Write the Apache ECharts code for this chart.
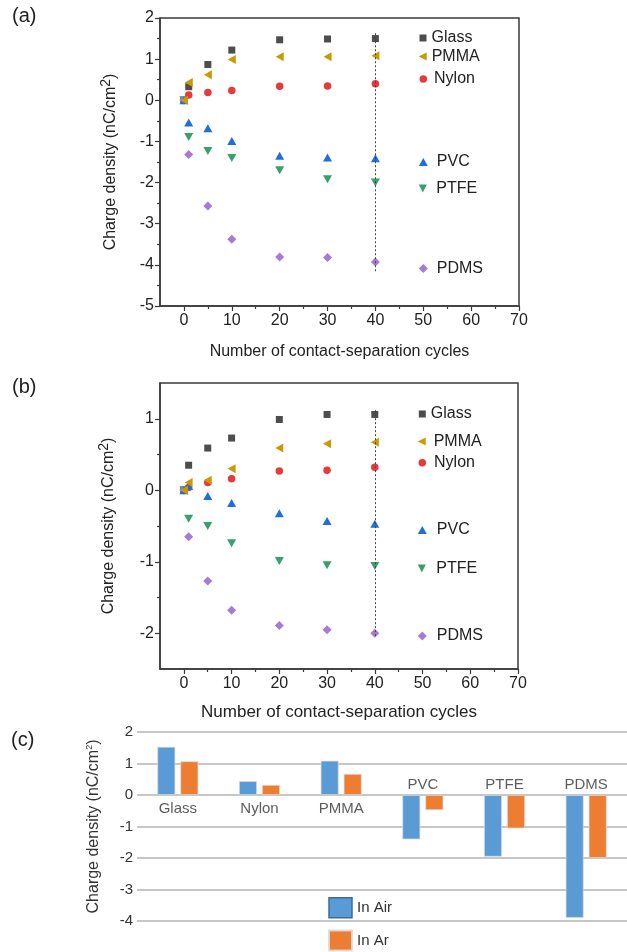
<!DOCTYPE html>
<html>
<head>
<meta charset="utf-8">
<script src="https://cdn.jsdelivr.net/npm/echarts@6/dist/echarts.min.js"></script>
<style>
html,body{margin:0;padding:0;background:#fff;}
#main{width:627px;height:952px;}
</style>
</head>
<body>
<div id="main"></div>
<script>
// ---------- data ----------
const cycles = [0, 1, 5, 10, 20, 30, 40];

// (a) in air
const glassA = [0, 0.33, 0.87, 1.22, 1.47, 1.49, 1.50];
const pmmaA  = [0, 0.43, 0.62, 0.99, 1.06, 1.06, 1.08];
const nylonA = [0, 0.13, 0.19, 0.24, 0.34, 0.35, 0.40];
const pvcA   = [0, -0.54, -0.68, -0.99, -1.35, -1.39, -1.41];
const ptfeA  = [0, -0.89, -1.23, -1.40, -1.70, -1.92, -2.00];
const pdmsA  = [0, -1.32, -2.57, -3.38, -3.81, -3.82, -3.93];

// (b) in Ar
const glassB = [0, 0.35, 0.59, 0.73, 0.99, 1.06, 1.06];
const pmmaB  = [0, 0.11, 0.14, 0.30, 0.59, 0.65, 0.67];
const nylonB = [0, 0.04, 0.11, 0.16, 0.27, 0.28, 0.32];
const pvcB   = [0, 0.06, -0.08, -0.18, -0.32, -0.43, -0.47];
const ptfeB  = [0, -0.40, -0.50, -0.74, -0.99, -1.05, -1.06];
const pdmsB  = [0, -0.65, -1.27, -1.68, -1.89, -1.95, -2.00];

// (c) bars
const materials = ['Glass', 'Nylon', 'PMMA', 'PVC', 'PTFE', 'PDMS'];
const inAir = [1.53, 0.44, 1.09, -1.41, -1.96, -3.90];
const inAr  = [1.07, 0.32, 0.67, -0.48, -1.06, -2.00];

// tick labels
const xMajorTicks = [0, 10, 20, 30, 40, 50, 60, 70];
const xMinorTicks = [5, 15, 25, 35, 45, 55, 65];
const yMajorTicksB = [-2, -1, 0, 1];
const yMinorTicksB = [-1.5, -0.5, 0.5];

// ---------- styles ----------
const FONT = 'Liberation Sans, Arial, Helvetica, sans-serif';
const AX = '#3a3a3a';
const TXT = '#222';
const colors = {
  Glass: '#4d4d4d', PMMA: '#cc9900', Nylon: '#e8393d',
  PVC: '#1f6fd6', PTFE: '#38a06a', PDMS: '#a77ad8'
};
const LEFT_TRI = 'path://M0,5L10,0L10,10Z';
const DOWN_TRI = 'path://M0,0L10,0L5,10Z';
const symbols = {
  Glass: {symbol: 'rect', size: [7, 7]},
  PMMA: {symbol: LEFT_TRI, size: [8, 9]},
  Nylon: {symbol: 'circle', size: 7.5},
  PVC: {symbol: 'triangle', size: [9, 8]},
  PTFE: {symbol: DOWN_TRI, size: [9, 8]},
  PDMS: {symbol: 'diamond', size: [9, 9]}
};

const zip = (xs, ys) => xs.map((x, i) => [x, ys[i]]);

const yName = {
  t: {fontSize: 16, color: TXT, fontFamily: FONT},
  s: {fontSize: 14, color: TXT, fontFamily: FONT, padding: [0, 0, 9, 0]}
};
const yNameC = {
  t: {fontSize: 16, color: '#333', fontFamily: FONT},
  s: {fontSize: 9, color: '#333', fontFamily: FONT, padding: [0, 0, 9, 0]}
};
const yNameText = '{t|Charge density (nC/cm}{s|2}{t|)}';

function majorX(grid, fs) {
  return {
    type: 'value', gridIndex: grid, min: -5, max: 70, position: 'bottom',
    name: 'Number of contact-separation cycles', nameLocation: 'middle',
    nameGap: grid === 0 ? 38 : 35,
    nameTextStyle: {fontSize: fs, color: TXT, fontFamily: FONT},
    axisLine: {show: true, onZero: false, lineStyle: {color: AX, width: 1.5}},
    axisTick: {show: true, length: 5, customValues: xMajorTicks, lineStyle: {color: AX, width: 1.2}},
    axisLabel: {customValues: xMajorTicks, fontSize: 16, color: TXT, fontFamily: FONT, margin: 7},
    splitLine: {show: false}
  };
}
function minorX(grid) {
  return {
    type: 'value', gridIndex: grid, min: -5, max: 70, position: 'bottom', offset: 0,
    axisLine: {show: false, onZero: false},
    axisTick: {show: true, length: 3, customValues: xMinorTicks, lineStyle: {color: AX, width: 1.2}},
    axisLabel: {show: false},
    splitLine: {show: false}
  };
}

const series = [];
function addScatter(name, values, xi, yi, markLine) {
  const s = {
    type: 'scatter', name: name, xAxisIndex: xi, yAxisIndex: yi,
    data: zip(cycles, values),
    symbol: symbols[name].symbol, symbolSize: symbols[name].size,
    itemStyle: {color: colors[name], opacity: 1},
    emphasis: {disabled: true}, z: 3
  };
  if (markLine) s.markLine = markLine;
  series.push(s);
}
function vline(top, bottom) {
  return {
    silent: true, symbol: 'none', label: {show: false},
    lineStyle: {color: '#444', width: 1, type: [2, 2]},
    data: [[{coord: [cycles[6], top]}, {coord: [cycles[6], bottom]}]]
  };
}

// (a)
addScatter('Glass', glassA, 0, 0, vline(glassA[6] + 0.13, pdmsA[6] - 0.23));
addScatter('Nylon', nylonA, 0, 0);
addScatter('PTFE', ptfeA, 0, 0);
addScatter('PDMS', pdmsA, 0, 0);
addScatter('PVC', pvcA, 0, 0);
addScatter('PMMA', pmmaA, 0, 0);
// (b)
addScatter('Glass', glassB, 2, 1, vline(glassB[6] + 0.06, pdmsB[6] - 0.05));
addScatter('Nylon', nylonB, 2, 1);
addScatter('PTFE', ptfeB, 2, 1);
addScatter('PDMS', pdmsB, 2, 1);
addScatter('PVC', pvcB, 2, 1);
addScatter('PMMA', pmmaB, 2, 1);

// (c)
series.push({
  type: 'bar', name: 'In Air', xAxisIndex: 4, yAxisIndex: 3, data: inAir,
  barWidth: 18, barGap: '28%',
  itemStyle: {color: '#5b9bd5', borderColor: 'rgba(220,220,220,0.9)', borderWidth: 0.8}, z: 3
});
series.push({
  type: 'bar', name: 'In Ar', xAxisIndex: 4, yAxisIndex: 3, data: inAr,
  barWidth: 18,
  itemStyle: {color: '#ed7d31', borderColor: 'rgba(220,220,220,0.9)', borderWidth: 0.8}, z: 3
});
// category labels above/below zero line
series.push({
  type: 'scatter', name: 'cat', xAxisIndex: 4, yAxisIndex: 3,
  symbolSize: 0, silent: true,
  data: materials.map((m, i) => ({
    value: [i, 0],
    label: {
      show: true, formatter: m,
      position: inAir[i] >= 0 ? 'bottom' : 'top',
      distance: inAir[i] >= 0 ? 6 : 3,
      fontSize: 15, color: '#333', fontFamily: FONT
    }
  })),
  z: 4
});

// legends placed inside plots
function leg(name, cx, cy, pad) {
  const sz = symbols[name].size;
  const w = Array.isArray(sz) ? sz[0] : sz;
  const h = Array.isArray(sz) ? sz[1] : sz;
  return {
    data: [{name: name, icon: symbols[name].symbol}],
    left: cx - w / 2, top: cy - 8, padding: 0,
    itemWidth: w, itemHeight: h, selectedMode: false,
    itemStyle: {color: colors[name]},
    textStyle: {fontSize: 16, color: TXT, fontFamily: FONT, lineHeight: 16, padding: [0, 0, 0, pad]}
  };
}
const legends = [
  leg('Glass', 423, 38, 0), leg('PMMA', 422.7, 56.5, 0), leg('Nylon', 423.3, 79, 2),
  leg('PVC', 423.3, 162, 4), leg('PTFE', 423.3, 188.5, 4), leg('PDMS', 423.3, 268.5, 4),
  leg('Glass', 422.3, 414, 0), leg('PMMA', 421.7, 441.5, 3), leg('Nylon', 422.3, 462.7, 3),
  leg('PVC', 422.3, 530, 5), leg('PTFE', 422.3, 568.5, 5), leg('PDMS', 422.3, 636, 5),
  {
    data: [
      {name: 'In Air', itemStyle: {borderColor: '#3b6c9b', borderWidth: 1.5}},
      {name: 'In Ar'}
    ],
    orient: 'vertical', left: 328, top: 897, padding: 0,
    itemWidth: 23, itemHeight: 20, itemGap: 11, icon: 'rect', selectedMode: false,
    textStyle: {fontSize: 15, color: '#333', fontFamily: FONT}
  }
];

const option = {
  animation: false,
  backgroundColor: '#fff',
  textStyle: {fontFamily: FONT},
  grid: [
    {left: 160, top: 18, width: 359, height: 288, show: true, borderColor: AX, borderWidth: 1.5, containLabel: false},
    {left: 160, top: 383, width: 358, height: 286, show: true, borderColor: AX, borderWidth: 1.5, containLabel: false},
    {left: 137, top: 732, width: 495, height: 189, containLabel: false}
  ],
  xAxis: [
    majorX(0, 16), minorX(0), majorX(1, 17), minorX(1),
    {
      type: 'category', gridIndex: 2, data: materials,
      axisLine: {show: false}, axisTick: {show: false}, axisLabel: {show: false},
      splitLine: {show: false}
    }
  ],
  yAxis: [
    {
      type: 'value', gridIndex: 0, min: -5, max: 2, interval: 1,
      name: yNameText, nameLocation: 'middle', nameGap: 38,
      nameTextStyle: {rich: yName},
      axisLine: {show: true, onZero: false, lineStyle: {color: AX, width: 1.5}},
      axisTick: {show: true, length: 5, lineStyle: {color: AX, width: 1.2}},
      minorTick: {show: true, splitNumber: 2, length: 3, lineStyle: {color: AX, width: 1.2}},
      axisLabel: {fontSize: 16, color: TXT, fontFamily: FONT, margin: 6},
      splitLine: {show: false}
    },
    {
      type: 'value', gridIndex: 1, min: -2.5, max: 1.5, position: 'left',
      name: yNameText, nameLocation: 'middle', nameGap: 40,
      nameTextStyle: {rich: yName},
      axisLine: {show: true, onZero: false, lineStyle: {color: AX, width: 1.5}},
      axisTick: {show: true, length: 5, customValues: yMajorTicksB, lineStyle: {color: AX, width: 1.2}},
      axisLabel: {customValues: yMajorTicksB, fontSize: 16, color: TXT, fontFamily: FONT, margin: 6},
      splitLine: {show: false}
    },
    {
      type: 'value', gridIndex: 1, min: -2.5, max: 1.5, position: 'left', offset: 0,
      axisLine: {show: false, onZero: false},
      axisTick: {show: true, length: 3, customValues: yMinorTicksB, lineStyle: {color: AX, width: 1.2}},
      axisLabel: {show: false},
      splitLine: {show: false}
    },
    {
      type: 'value', gridIndex: 2, min: -4, max: 2, interval: 1,
      name: '{t|Charge density (nC/cm}{s|2}{t|)}', nameLocation: 'middle', nameGap: 34,
      nameTextStyle: {rich: yNameC},
      axisLine: {show: false}, axisTick: {show: false},
      axisLabel: {fontSize: 15, color: '#333', fontFamily: FONT, margin: 4},
      splitLine: {show: true, lineStyle: {color: '#b5b5b5', width: 1.5}}
    }
  ],
  legend: legends,
  series: series,
  graphic: [
    {type: 'text', left: 12, top: 6, style: {text: '(a)', fontSize: 20, fill: TXT, fontFamily: FONT}},
    {type: 'text', left: 12, top: 377, style: {text: '(b)', fontSize: 20, fill: TXT, fontFamily: FONT}},
    {type: 'text', left: 11, top: 730, style: {text: '(c)', fontSize: 20, fill: TXT, fontFamily: FONT}}
  ]
};

const chart = echarts.init(document.getElementById('main'), null, {renderer: 'canvas'});
chart.setOption(option);
</script>
</body>
</html>
